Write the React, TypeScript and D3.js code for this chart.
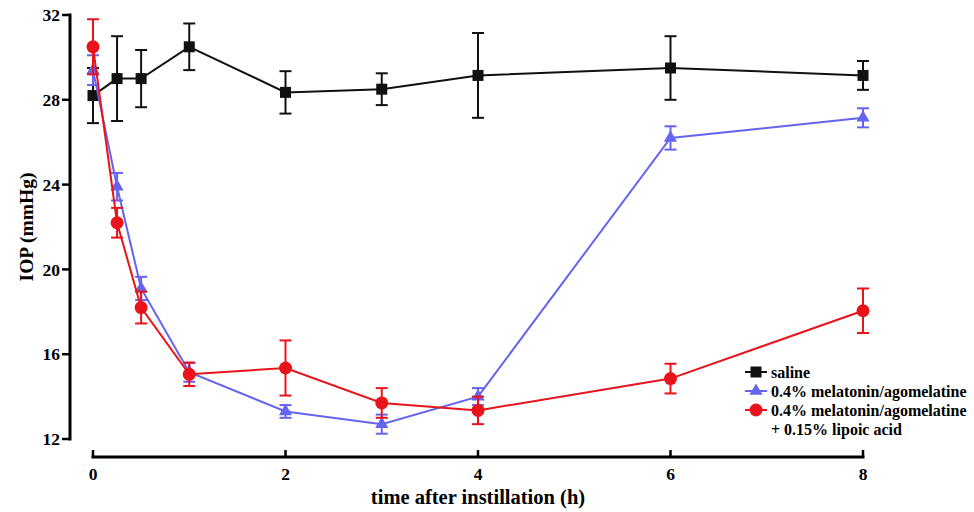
import React from 'react';
import * as d3 from 'd3';

// time points (h)
const times = [0, 0.25, 0.5, 1, 2, 3, 4, 6, 8];

// IOP means and error (mmHg)
const salineMean = [28.2, 29.0, 29.0, 30.5, 28.35, 28.5, 29.15, 29.5, 29.15];
const salineErr = [1.3, 2.0, 1.35, 1.1, 1.0, 0.75, 2.0, 1.5, 0.68];
const melMean = [29.4, 23.9, 19.1, 15.15, 13.3, 12.7, 14.0, 26.2, 27.15];
const melErr = [0.7, 0.65, 0.55, 0.45, 0.3, 0.45, 0.4, 0.55, 0.45];
const lipMean = [30.5, 22.2, 18.2, 15.05, 15.35, 13.7, 13.35, 14.85, 18.05];
const lipErr = [1.3, 0.7, 0.75, 0.55, 1.3, 0.7, 0.65, 0.7, 1.05];

const xTicks = [0, 2, 4, 6, 8];
const yTicks = [12, 16, 20, 24, 28, 32];

const seriesNames = ['saline', '0.4% melatonin/agomelatine', '0.4% melatonin/agomelatine'];

const font = '"Liberation Serif", "Times New Roman", serif';

type Shape = 'square' | 'triangle' | 'circle';

function Marker({ shape, x, y, color }: { shape: Shape; x: number; y: number; color: string }) {
  if (shape === 'square') return <rect x={x - 5.5} y={y - 5.5} width={11} height={11} fill={color} />;
  if (shape === 'circle') return <circle cx={x} cy={y} r={6.5} fill={color} />;
  const sym = d3.symbol().type(d3.symbolTriangle).size(75)();
  return <path d={sym || ''} transform={`translate(${x},${y})`} fill={color} />;
}

export default function App() {
  const width = 974;
  const height = 512;

  const x = d3.scaleLinear().domain([0, 8]).range([93, 863]);
  const y = d3.scaleLinear().domain([12, 32]).range([439, 15]);
  const axisY = 457;
  const axisX = 70;

  const series = [
    { mean: salineMean, err: salineErr, color: '#111111', shape: 'square' as Shape, cap: 6 },
    { mean: melMean, err: melErr, color: '#6464ee', shape: 'triangle' as Shape, cap: 6 },
    { mean: lipMean, err: lipErr, color: '#e8141a', shape: 'circle' as Shape, cap: 6 },
  ];

  const line = d3.line<number>()
    .x((d, i) => x(times[i]))
    .y(d => y(d));

  const legendY = [372, 391, 410];

  return (
    <svg width={width} height={height} style={{ position: 'absolute', left: 0, top: 0, background: '#fff' }}
      fontFamily={font} fontWeight="bold">
      {/* y axis */}
      <line x1={axisX} x2={axisX} y1={y(32) - 1.5} y2={y(12) + 1.5} stroke="#000" strokeWidth={3} />
      {yTicks.map(t => (
        <g key={t}>
          <line x1={axisX - 8} x2={axisX} y1={y(t)} y2={y(t)} stroke="#000" strokeWidth={2.5} />
          <text x={axisX - 10} y={y(t)} dy="0.35em" textAnchor="end" fontSize={17.5}>{t}</text>
        </g>
      ))}
      <text transform={`translate(26,${(y(12) + y(32)) / 2}) rotate(-90)`} textAnchor="middle"
        dy="0.35em" fontSize={19.5}>IOP (mmHg)</text>

      {/* x axis */}
      <line x1={x(0) - 1.5} x2={x(8) + 1.5} y1={axisY} y2={axisY} stroke="#000" strokeWidth={3} />
      {xTicks.map(t => (
        <g key={t}>
          <line x1={x(t)} x2={x(t)} y1={axisY - 7} y2={axisY} stroke="#000" strokeWidth={2.5} />
          <text x={x(t)} y={axisY + 17} dy="0.35em" textAnchor="middle" fontSize={17.5}>{t}</text>
        </g>
      ))}
      <text x={478} y={497} dy="0.35em" textAnchor="middle" fontSize={20.5}>time after instillation (h)</text>

      {/* series */}
      {series.map((s, si) => (
        <g key={si}>
          <path d={line(s.mean) || ''} fill="none" stroke={s.color} strokeWidth={2} />
          {s.mean.map((m, i) => (
            <g key={i} stroke={s.color} strokeWidth={2}>
              <line x1={x(times[i])} x2={x(times[i])} y1={y(m + s.err[i])} y2={y(m - s.err[i])} />
              <line x1={x(times[i]) - s.cap} x2={x(times[i]) + s.cap} y1={y(m + s.err[i])} y2={y(m + s.err[i])} />
              <line x1={x(times[i]) - s.cap} x2={x(times[i]) + s.cap} y1={y(m - s.err[i])} y2={y(m - s.err[i])} />
            </g>
          ))}
          {s.mean.map((m, i) => (
            <Marker key={'m' + i} shape={s.shape} x={x(times[i])} y={y(m)} color={s.color} />
          ))}
        </g>
      ))}

      {/* legend */}
      {series.map((s, si) => (
        <g key={'l' + si}>
          <line x1={745} x2={767} y1={legendY[si]} y2={legendY[si]} stroke={s.color} strokeWidth={2} />
          <Marker shape={s.shape} x={756} y={legendY[si]} color={s.color} />
          <text x={771} y={legendY[si]} dy="0.35em" fontSize={16}>{seriesNames[si]}</text>
        </g>
      ))}
      <text x={771} y={429} dy="0.35em" fontSize={16}>+ 0.15% lipoic acid</text>
    </svg>
  );
}
